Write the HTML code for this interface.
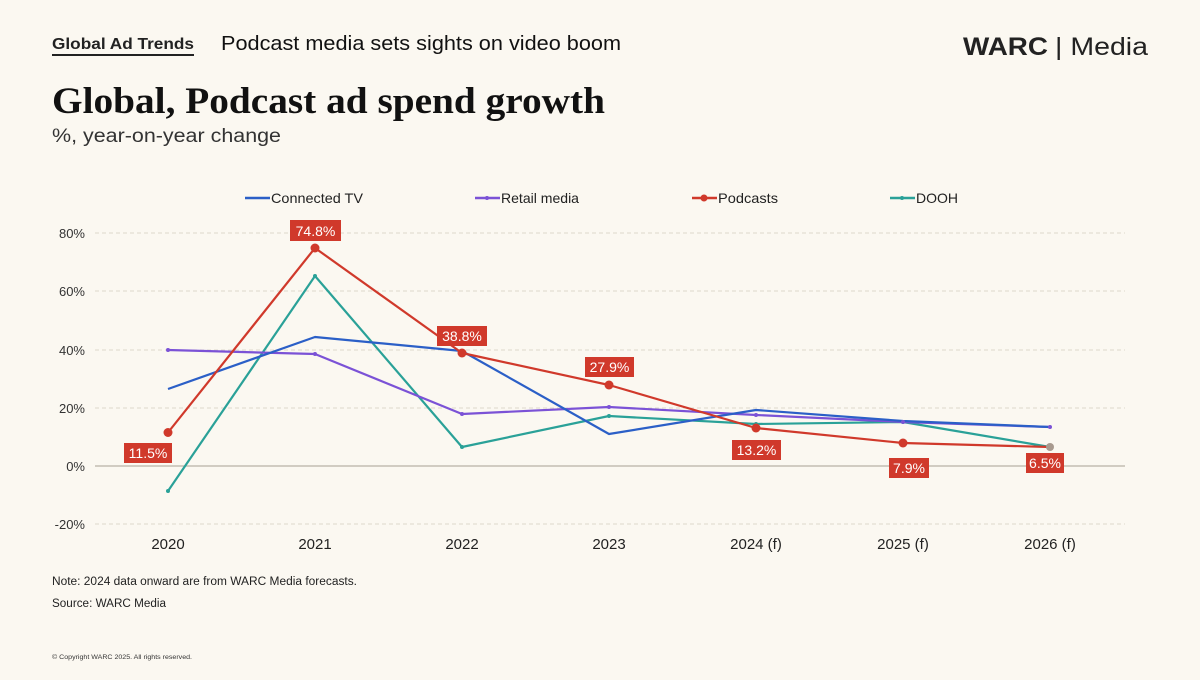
<!DOCTYPE html>
<html><head><meta charset="utf-8"><style>
body{margin:0;width:1200px;height:675px;background:#fbf8f1;overflow:hidden;font-family:"Liberation Sans",sans-serif;}
</style></head><body>
<svg width="1200" height="675" xmlns="http://www.w3.org/2000/svg" font-family="Liberation Sans, sans-serif">
<rect width="1200" height="675" fill="#fbf8f1"/>
<text x="52" y="49" font-size="16" font-weight="bold" fill="#222" textLength="142" lengthAdjust="spacingAndGlyphs">Global Ad Trends</text>
<rect x="52" y="54" width="142" height="2" fill="#222"/>
<text x="221" y="50" font-size="20" fill="#111" textLength="400" lengthAdjust="spacingAndGlyphs">Podcast media sets sights on video boom</text>
<text x="963" y="55" font-size="25" font-weight="bold" fill="#222" textLength="85" lengthAdjust="spacingAndGlyphs">WARC</text>
<text x="1055" y="55" font-size="25" fill="#222" textLength="93" lengthAdjust="spacingAndGlyphs">| Media</text>
<text x="52" y="113" font-size="37" font-weight="bold" font-family="Liberation Serif, serif" fill="#111" textLength="553" lengthAdjust="spacingAndGlyphs">Global, Podcast ad spend growth</text>
<text x="52" y="142" font-size="19" fill="#333" textLength="229" lengthAdjust="spacingAndGlyphs">%, year-on-year change</text>
<g font-size="14" fill="#222">
<line x1="245" y1="198" x2="270" y2="198" stroke="#2b5fc7" stroke-width="2.5"/><text x="271" y="203" textLength="92" lengthAdjust="spacingAndGlyphs">Connected TV</text>
<line x1="475" y1="198" x2="500" y2="198" stroke="#7b52d6" stroke-width="2.5"/><circle cx="487" cy="198" r="2" fill="#7b52d6"/><text x="501" y="203" textLength="78" lengthAdjust="spacingAndGlyphs">Retail media</text>
<line x1="692" y1="198" x2="717" y2="198" stroke="#d0392b" stroke-width="2.5"/><circle cx="704" cy="198" r="3.5" fill="#d0392b"/><text x="718" y="203" textLength="60" lengthAdjust="spacingAndGlyphs">Podcasts</text>
<line x1="890" y1="198" x2="915" y2="198" stroke="#2aa198" stroke-width="2.5"/><circle cx="902" cy="198" r="2" fill="#2aa198"/><text x="916" y="203" textLength="42" lengthAdjust="spacingAndGlyphs">DOOH</text>
</g>
<g stroke="#ddd8cc" stroke-dasharray="4,3" stroke-width="1">
<line x1="95" y1="233" x2="1125" y2="233"/><line x1="95" y1="291" x2="1125" y2="291"/><line x1="95" y1="350" x2="1125" y2="350"/><line x1="95" y1="408" x2="1125" y2="408"/><line x1="95" y1="524" x2="1125" y2="524"/>
</g>
<line x1="95" y1="466" x2="1125" y2="466" stroke="#b8b2a6" stroke-width="1.2"/>
<g font-size="13" fill="#333" text-anchor="end">
<text x="85" y="238">80%</text><text x="85" y="296">60%</text><text x="85" y="355">40%</text><text x="85" y="413">20%</text><text x="85" y="471">0%</text><text x="85" y="529">-20%</text>
</g>
<g font-size="15" fill="#222" text-anchor="middle">
<text x="168" y="549">2020</text><text x="315" y="549">2021</text><text x="462" y="549">2022</text><text x="609" y="549">2023</text><text x="756" y="549">2024 (f)</text><text x="903" y="549">2025 (f)</text><text x="1050" y="549">2026 (f)</text>
</g>
<g fill="none" stroke-width="2.2" stroke-linejoin="round">
<polyline stroke="#2aa198" points="168,491 315,276 462,447 609,416 756,424 903,422 1050,447"/>
<polyline stroke="#7b52d6" points="168,350 315,354 462,414 609,407 756,415 903,422 1050,427"/>
<polyline stroke="#2b5fc7" points="168,389 315,337 462,351 609,434 756,410 903,421 1050,427"/>
<polyline stroke="#d0392b" points="168,432.5 315,248 462,353 609,385 756,428 903,443 1050,447"/>
</g>
<g fill="#2aa198"><circle cx="168" cy="491" r="2"/><circle cx="315" cy="276" r="2"/><circle cx="462" cy="447" r="2"/><circle cx="609" cy="416" r="2"/><circle cx="756" cy="424" r="2"/><circle cx="903" cy="422" r="2"/></g>
<g fill="#7b52d6"><circle cx="168" cy="350" r="2"/><circle cx="315" cy="354" r="2"/><circle cx="462" cy="414" r="2"/><circle cx="609" cy="407" r="2"/><circle cx="756" cy="415" r="2"/><circle cx="903" cy="422" r="2"/><circle cx="1050" cy="427" r="2"/></g>
<g fill="#d0392b"><circle cx="168" cy="432.5" r="4.5"/><circle cx="315" cy="248" r="4.5"/><circle cx="462" cy="353" r="4.5"/><circle cx="609" cy="385" r="4.5"/><circle cx="756" cy="428" r="4.5"/><circle cx="903" cy="443" r="4.5"/><circle cx="1050" cy="447" r="4" fill="#a89a8f"/></g>
<g font-size="14" fill="#fff" text-anchor="middle">
<rect x="124" y="443" width="48" height="20" fill="#d0392b"/><text x="148" y="458">11.5%</text>
<rect x="290" y="220" width="51" height="21" fill="#d0392b"/><text x="315.5" y="236">74.8%</text>
<rect x="437" y="326" width="50" height="20" fill="#d0392b"/><text x="462" y="341">38.8%</text>
<rect x="585" y="357" width="49" height="20" fill="#d0392b"/><text x="609.5" y="372">27.9%</text>
<rect x="732" y="440" width="49" height="20" fill="#d0392b"/><text x="756.5" y="455">13.2%</text>
<rect x="889" y="458" width="40" height="20" fill="#d0392b"/><text x="909" y="473">7.9%</text>
<rect x="1026" y="453" width="38" height="20" fill="#d0392b"/><text x="1045" y="468">6.5%</text>
</g>
<text x="52" y="585" font-size="11.5" fill="#222" textLength="305" lengthAdjust="spacingAndGlyphs">Note: 2024 data onward are from WARC Media forecasts.</text>
<text x="52" y="607" font-size="11.5" fill="#222" textLength="114" lengthAdjust="spacingAndGlyphs">Source: WARC Media</text>
<text x="52" y="659" font-size="6.5" fill="#333" textLength="140" lengthAdjust="spacingAndGlyphs">© Copyright WARC 2025. All rights reserved.</text>
</svg>
</body></html>
